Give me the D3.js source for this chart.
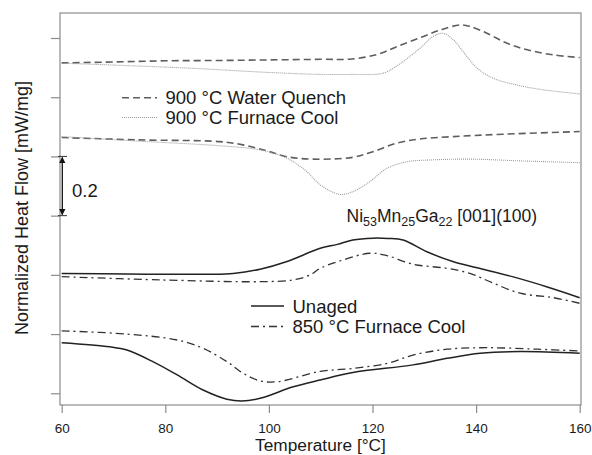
<!DOCTYPE html>
<html>
<head>
<meta charset="utf-8">
<script src="https://cdn.jsdelivr.net/npm/d3@7/dist/d3.min.js"></script>
<style>
  html, body { margin: 0; padding: 0; background: #fff; }
  svg { display: block; }
  text { font-family: "Liberation Sans", Arial, sans-serif; fill: #1a1a1a; }
</style>
</head>
<body>
<svg id="chart" width="592" height="455"></svg>
<script>
// ---------- data ----------
const xTicks = [60, 80, 100, 120, 140, 160];
const yTicks = [0, 0.2, 0.4, 0.6, 0.8, 1.0, 1.2];

// 900 °C Water Quench, heating (upper)
const wqHeatT = [60, 70, 80, 90, 100, 110, 116, 121, 124.7, 129.2, 133.1, 136.9, 138.8, 142.1, 146, 149.9, 154.9, 160];
const wqHeatV = [1.116, 1.119, 1.123, 1.124, 1.126, 1.128, 1.129, 1.145, 1.171, 1.201, 1.227, 1.244, 1.239, 1.216, 1.182, 1.160, 1.143, 1.134];
// 900 °C Furnace Cool, heating (upper)
const fcHeatT = [60, 69.3, 84.8, 99.6, 110, 116, 121, 122.8, 125.9, 129.2, 131.7, 133.6, 135.6, 137.5, 140.2, 143.3, 147.2, 151.8, 160];
const fcHeatV = [1.115, 1.109, 1.098, 1.084, 1.077, 1.077, 1.078, 1.086, 1.120, 1.166, 1.205, 1.216, 1.194, 1.154, 1.098, 1.064, 1.044, 1.028, 1.011];
// 900 °C Water Quench, cooling
const wqCoolT = [60, 74.5, 90.5, 95, 99.6, 103.5, 108.5, 116.2, 120.1, 124.7, 129.2, 135.6, 145.2, 160];
const wqCoolV = [0.864, 0.856, 0.850, 0.839, 0.819, 0.799, 0.791, 0.797, 0.816, 0.845, 0.859, 0.867, 0.875, 0.884];
// 900 °C Furnace Cool, cooling
const fcCoolT = [60, 74.5, 90.5, 98.3, 103.5, 107.3, 109.9, 113.7, 116.2, 119.5, 122.8, 126.7, 131.1, 138.8, 148.5, 160];
const fcCoolV = [0.867, 0.852, 0.836, 0.822, 0.794, 0.749, 0.704, 0.672, 0.681, 0.715, 0.760, 0.782, 0.788, 0.791, 0.785, 0.779];
// Unaged, heating
const unHeatT = [60, 72.6, 88.6, 93.1, 98.3, 103.5, 109.9, 113.2, 116.2, 120.1, 123, 125.9, 130.5, 135.5, 140.2, 147, 153.6, 160];
const unHeatV = [0.405, 0.403, 0.402, 0.405, 0.419, 0.445, 0.490, 0.503, 0.518, 0.524, 0.523, 0.518, 0.478, 0.445, 0.424, 0.394, 0.360, 0.323];
// 850 °C Furnace Cool, heating
const f850HeatT = [60, 79, 98.3, 104.7, 108, 109.9, 113.7, 119.5, 122.8, 127.8, 134.4, 138.8, 143.3, 148.5, 154.9, 160];
const f850HeatV = [0.394, 0.383, 0.377, 0.383, 0.400, 0.422, 0.447, 0.473, 0.465, 0.436, 0.422, 0.405, 0.372, 0.338, 0.323, 0.304];
// Unaged, cooling
const unCoolT = [60, 69.3, 72.6, 77.6, 82.3, 87.3, 91.9, 94.8, 98.3, 104.7, 109.9, 116.2, 127.8, 134.4, 140.8, 148.5, 160];
const unCoolV = [0.171, 0.157, 0.146, 0.107, 0.062, 0.011, -0.020, -0.026, -0.017, 0.022, 0.045, 0.070, 0.096, 0.118, 0.135, 0.141, 0.135];
// 850 °C Furnace Cool, cooling
const f850CoolT = [60, 72.6, 82.3, 87.3, 91.9, 95, 98.3, 101.6, 109.9, 116.2, 122.8, 127.8, 134.4, 142.1, 151.8, 160];
const f850CoolV = [0.211, 0.200, 0.180, 0.152, 0.107, 0.068, 0.042, 0.039, 0.074, 0.084, 0.101, 0.129, 0.149, 0.154, 0.149, 0.143];

const legend1 = ["900 °C Water Quench", "900 °C Furnace Cool"];
const legend2 = ["Unaged", "850 °C Furnace Cool"];
const xTitle = "Temperature [°C]";
const yTitle = "Normalized Heat Flow [mW/mg]";
const scaleLabel = "0.2";
const scaleFrom = 0.6, scaleTo = 0.8;

// ---------- styles ----------
const styles = {
  wq:   { stroke: "#5e5e5e", width: 1.6, dash: "7,4" },
  fc:   { stroke: "#9a9a9a", width: 1.1, dash: "1,1" },
  un:   { stroke: "#222222", width: 1.5, dash: null },
  f850: { stroke: "#333333", width: 1.3, dash: "8,4,2,4" }
};

const series = [
  { T: wqHeatT, V: wqHeatV, s: "wq" },
  { T: fcHeatT, V: fcHeatV, s: "fc" },
  { T: wqCoolT, V: wqCoolV, s: "wq" },
  { T: fcCoolT, V: fcCoolV, s: "fc" },
  { T: unHeatT, V: unHeatV, s: "un" },
  { T: f850HeatT, V: f850HeatV, s: "f850" },
  { T: unCoolT, V: unCoolV, s: "un" },
  { T: f850CoolT, V: f850CoolV, s: "f850" }
];

// ---------- layout ----------
const svg = d3.select("#chart");
const box = { left: 60, right: 581, top: 13, bottom: 405 };
const x = d3.scaleLinear().domain([60, 160]).range([61.7, 579.7]);
const y = d3.scaleLinear().domain([0, 1.2]).range([393.3, 38]);

// frame
svg.append("rect")
  .attr("x", box.left).attr("y", box.top)
  .attr("width", box.right - box.left).attr("height", box.bottom - box.top)
  .attr("fill", "none").attr("stroke", "#8c8c8c").attr("stroke-width", 1.2);

// x axis
const xAxis = svg.append("g").attr("transform", `translate(0,${box.bottom})`)
  .call(d3.axisBottom(x).tickValues(xTicks).tickSize(8).tickPadding(10).tickFormat(d3.format("d")));
xAxis.select(".domain").remove();
xAxis.selectAll(".tick line").attr("stroke", "#8c8c8c").attr("stroke-width", 1.2);
xAxis.selectAll(".tick text").style("font-size", "13.5px").style("font-family", "Liberation Sans, Arial, sans-serif").attr("fill", "#1a1a1a");

// y axis (ticks only, no labels)
const yAxis = svg.append("g").attr("transform", `translate(${box.left},0)`)
  .call(d3.axisLeft(y).tickValues(yTicks).tickSize(9).tickFormat(""));
yAxis.select(".domain").remove();
yAxis.selectAll(".tick line").attr("stroke", "#8c8c8c").attr("stroke-width", 1.2);

// curves
const line = d3.line().x(d => x(d[0])).y(d => y(d[1])).curve(d3.curveCatmullRom.alpha(0.5));
series.forEach(sr => {
  const st = styles[sr.s];
  const pts = sr.T.map((t, i) => [t, sr.V[i]]);
  svg.append("path").datum(pts)
    .attr("d", line)
    .attr("fill", "none")
    .attr("stroke", st.stroke)
    .attr("stroke-width", st.width)
    .attr("stroke-dasharray", st.dash);
});

// legends
function legendRow(x0, x1, yy, style, label, tx) {
  const st = styles[style];
  svg.append("line").attr("x1", x0).attr("x2", x1).attr("y1", yy).attr("y2", yy)
    .attr("stroke", st.stroke).attr("stroke-width", st.width).attr("stroke-dasharray", st.dash);
  svg.append("text").attr("x", tx).attr("y", yy + 6.5).style("font-size", "18.5px").text(label);
}
legendRow(122, 157, 97.7, "wq", legend1[0], 165.5);
legendRow(122, 157, 117.5, "fc", legend1[1], 165.5);
legendRow(251, 284, 306, "un", legend2[0], 292.5);
legendRow(251, 284, 326.5, "f850", legend2[1], 292.5);

// scale bar 0.2
const sbX = 62.3;
svg.append("defs").append("marker")
  .attr("id", "arr").attr("viewBox", "0 0 10 10").attr("refX", 9).attr("refY", 5)
  .attr("markerWidth", 5).attr("markerHeight", 6).attr("orient", "auto-start-reverse")
  .append("path").attr("d", "M0,0 L10,5 L0,10 z").attr("fill", "#111");
svg.append("line").attr("x1", sbX).attr("x2", sbX).attr("y1", y(scaleTo) + 1).attr("y2", y(scaleFrom) - 1)
  .attr("stroke", "#111").attr("stroke-width", 1.3)
  .attr("marker-start", "url(#arr)").attr("marker-end", "url(#arr)");
[scaleTo, scaleFrom].forEach(v => {
  svg.append("line").attr("x1", box.left - 2).attr("x2", 67).attr("y1", y(v)).attr("y2", y(v))
    .attr("stroke", "#333").attr("stroke-width", 1);
});
svg.append("text").attr("x", 72).attr("y", 196.5).style("font-size", "18.5px").text(scaleLabel);

// composition annotation
const ann = svg.append("text").attr("x", 346.5).attr("y", 221.5).style("font-size", "17.5px");
ann.append("tspan").text("Ni");
ann.append("tspan").attr("dy", 4).style("font-size", "12.5px").text("53");
ann.append("tspan").attr("dy", -4).text("Mn");
ann.append("tspan").attr("dy", 4).style("font-size", "12.5px").text("25");
ann.append("tspan").attr("dy", -4).text("Ga");
ann.append("tspan").attr("dy", 4).style("font-size", "12.5px").text("22");
ann.append("tspan").attr("dy", -4).text(" [001](100)");

// axis titles
svg.append("text").attr("x", (box.left + box.right) / 2).attr("y", 451)
  .attr("text-anchor", "middle").style("font-size", "17.3px").text(xTitle);
svg.append("text").attr("transform", "translate(28,208) rotate(-90)")
  .attr("text-anchor", "middle").style("font-size", "18px").text(yTitle);
</script>
</body>
</html>
